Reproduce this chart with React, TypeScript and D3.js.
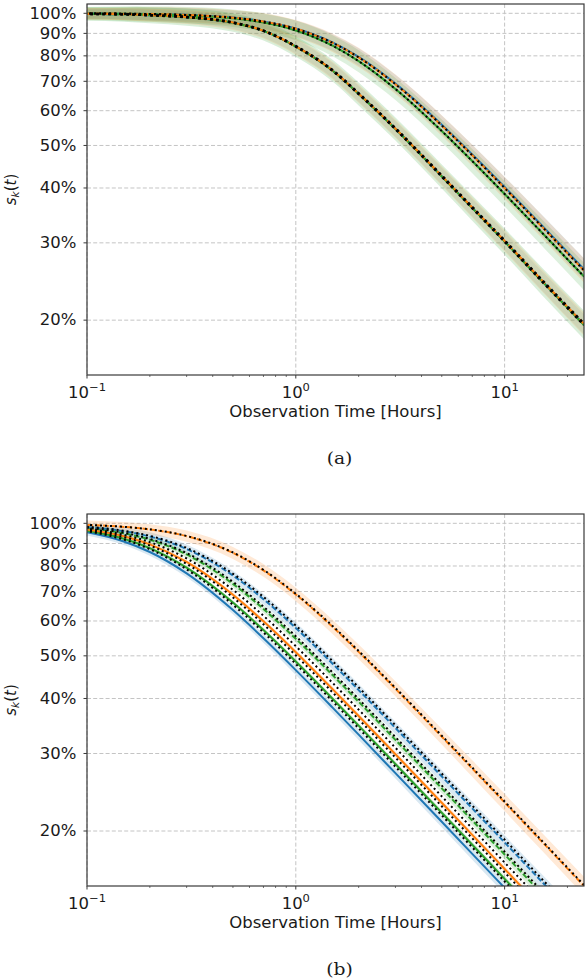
import React from "react";
import * as d3 from "d3";

// Observation times (hours) at which the survival curves are sampled
const T = [0.05, 0.1, 0.15, 0.2, 0.3, 0.5, 0.7, 1, 1.5, 2, 3, 5, 7, 10, 15, 24];

// Panel (a): two groups of nearly coincident estimates
const aTopBlue = [0.9998, 0.999, 0.998, 0.9963, 0.9918, 0.9778, 0.9586, 0.9233, 0.858, 0.7953, 0.6915, 0.5575, 0.477, 0.402, 0.3296, 0.2612];
const aTopOrange = [0.9998, 0.999, 0.998, 0.9962, 0.9916, 0.9775, 0.9581, 0.9225, 0.8566, 0.7934, 0.6893, 0.5552, 0.4748, 0.3999, 0.3277, 0.2595];
const aTopGreen = [0.9997, 0.9989, 0.9976, 0.9957, 0.9905, 0.9746, 0.953, 0.9141, 0.8437, 0.7779, 0.6723, 0.5393, 0.4607, 0.3877, 0.3175, 0.2514];
const aLowBlue = [0.999, 0.997, 0.995, 0.9901, 0.9801, 0.9522, 0.9122, 0.8404, 0.7406, 0.6556, 0.5456, 0.4256, 0.3606, 0.3026, 0.2466, 0.1955];
const aLowOrange = [0.999, 0.997, 0.995, 0.9902, 0.9803, 0.9525, 0.9125, 0.8408, 0.7412, 0.6562, 0.5462, 0.4262, 0.3612, 0.3032, 0.2472, 0.196];
const aLowGreen = [0.999, 0.997, 0.995, 0.99, 0.98, 0.952, 0.912, 0.84, 0.74, 0.655, 0.545, 0.425, 0.36, 0.302, 0.246, 0.195];

// Panel (b): six groups, solid and dashed
const bSolidBlue = [0.9875, 0.9543, 0.9093, 0.8606, 0.7696, 0.6352, 0.5481, 0.464, 0.3813, 0.3311, 0.2707, 0.2099, 0.1775, 0.1485, 0.1212, 0.0958];
const bSolidGreen = [0.9897, 0.9615, 0.9223, 0.8784, 0.793, 0.6607, 0.5722, 0.4855, 0.3996, 0.347, 0.2839, 0.2201, 0.1861, 0.1557, 0.1272, 0.1006];
const bSolidOrange = [0.9915, 0.9682, 0.9346, 0.8958, 0.8171, 0.6883, 0.5989, 0.5097, 0.4201, 0.3651, 0.2989, 0.2318, 0.196, 0.164, 0.1339, 0.1059];
const bDashGreen = [0.9937, 0.976, 0.9496, 0.918, 0.8497, 0.7284, 0.6389, 0.5465, 0.452, 0.3932, 0.3221, 0.25, 0.2113, 0.1769, 0.1444, 0.1142];
const bDashBlue = [0.9951, 0.9811, 0.9598, 0.9334, 0.8739, 0.7609, 0.6726, 0.5784, 0.4799, 0.418, 0.3428, 0.2661, 0.2251, 0.1884, 0.1538, 0.1216];
const bDashOrange = [0.9979, 0.9916, 0.9816, 0.9684, 0.935, 0.8566, 0.7815, 0.6893, 0.582, 0.5105, 0.4209, 0.3277, 0.2773, 0.2322, 0.1897, 0.15];

// Time acceleration of each fitted (dotted) curve relative to its estimate
const bFitScale = [1.07, 1.07, 1.07, 1.03, 1.03, 1.01];

// Relative growth of the confidence band along the time axis
const bandSpread = [0.6, 0.6, 0.65, 0.7, 0.75, 0.8, 0.85, 0.9, 0.95, 1, 1, 1.05, 1.1, 1.15, 1.2, 1.25];

const yTicks = [0.2, 0.3, 0.4, 0.5, 0.6, 0.7, 0.8, 0.9, 1.0];
const yTickLabels = ["20%", "30%", "40%", "50%", "60%", "70%", "80%", "90%", "100%"];
const xMajor = [0.1, 1, 10];
const xMajorExp = ["−1", "0", "1"];
const xMinor = [0.2, 0.3, 0.4, 0.5, 0.6, 0.7, 0.8, 0.9, 2, 3, 4, 5, 6, 7, 8, 9, 20];

const BLUE = "#1f77b4";
const ORANGE = "#ff7f0e";
const GREEN = "#2ca02c";

type Series = { vals: number[]; color: string; dashed: boolean; band: number; alpha: number };
type Fit = { vals: number[]; scale: number; width: number; dash: string };

const panelASeries: Series[] = [
  { vals: aTopBlue, color: BLUE, dashed: false, band: 0.02, alpha: 0.14 },
  { vals: aTopGreen, color: GREEN, dashed: false, band: 0.025, alpha: 0.16 },
  { vals: aTopOrange, color: ORANGE, dashed: true, band: 0.022, alpha: 0.16 },
  { vals: aLowBlue, color: BLUE, dashed: false, band: 0.018, alpha: 0.1 },
  { vals: aLowGreen, color: GREEN, dashed: false, band: 0.026, alpha: 0.18 },
  { vals: aLowOrange, color: ORANGE, dashed: true, band: 0.021, alpha: 0.14 },
];
const panelAFits: Fit[] = [
  { vals: aTopOrange, scale: 1, width: 2, dash: "2 3" },
  { vals: aTopGreen, scale: 1, width: 2, dash: "2 3" },
  { vals: aLowGreen, scale: 1, width: 2.6, dash: "2.6 3.4" },
  { vals: aLowOrange, scale: 1.004, width: 2.6, dash: "2.6 3.4" },
];

const bVals = [bSolidBlue, bSolidGreen, bSolidOrange, bDashGreen, bDashBlue, bDashOrange];
const bColors = [BLUE, GREEN, ORANGE, GREEN, BLUE, ORANGE];
const bDashed = [false, false, false, true, true, true];
const bBands = [0.012, 0.006, 0.006, 0.01, 0.014, 0.017];

const panelBSeries: Series[] = bVals.map((vals, i) => ({ vals, color: bColors[i], dashed: bDashed[i], band: bBands[i], alpha: 0.17 }));
const panelBFits: Fit[] = bVals.map((vals, i) => ({ vals, scale: bFitScale[i], width: 2, dash: "2 3" }));

const X0 = 87;
const X1 = 584;
const SX = 1.1; // horizontal text stretch
const FONT = "DejaVu Sans";
const INK = "#1a1a1a";

function Txt(props: { x: number; y: number; anchor?: string; size?: number; family?: string; children: React.ReactNode }) {
  const { x, y, anchor = "middle", size = 15, family = FONT, children } = props;
  return (
    <text transform={`translate(${x},${y}) scale(${SX},1)`} textAnchor={anchor} fontSize={size} fontFamily={family} fill={INK}>
      {children}
    </text>
  );
}

function Panel(props: { id: string; top: number; bottom: number; series: Series[]; fits: Fit[]; caption: string }) {
  const { id, top, bottom, series, fits, caption } = props;
  const x = d3.scaleLog().domain([0.1, 24]).range([X0, X1]);
  const y = d3.scaleLog().domain([0.15, 1.05]).range([bottom, top]);

  const lineGen = (scale: number) =>
    d3
      .line<number>()
      .x((_, i) => x(T[i] * scale))
      .y((v) => y(v))
      .curve(d3.curveMonotoneX);

  const areaGen = (band: number) =>
    d3
      .area<number>()
      .x((_, i) => x(T[i]))
      .y0((v, i) => y(v * Math.pow(10, -band * bandSpread[i])))
      .y1((v, i) => y(v * Math.pow(10, band * bandSpread[i])))
      .curve(d3.curveMonotoneX);

  const mid = (top + bottom) / 2;

  return (
    <g>
      <defs>
        <clipPath id={id}>
          <rect x={X0} y={top} width={X1 - X0} height={bottom - top} />
        </clipPath>
      </defs>

      {/* grid */}
      {yTicks.map((t) => (
        <line key={"gy" + t} x1={X0} x2={X1} y1={y(t)} y2={y(t)} stroke="#c4c4c4" strokeWidth={1} strokeDasharray="4 2.2" />
      ))}
      {xMajor.map((t) => (
        <line key={"gx" + t} x1={x(t)} x2={x(t)} y1={top} y2={bottom} stroke="#c4c4c4" strokeWidth={1} strokeDasharray="4 2.2" />
      ))}

      <g clipPath={`url(#${id})`}>
        {series.map((s, i) => (
          <path key={"b" + i} d={areaGen(s.band)(s.vals) || ""} fill={s.color} fillOpacity={s.alpha} stroke="none" />
        ))}
        {series.map((s, i) => (
          <path
            key={"l" + i}
            d={lineGen(1)(s.vals) || ""}
            fill="none"
            stroke={s.color}
            strokeWidth={2}
            strokeDasharray={s.dashed ? "5.5 2.4" : undefined}
          />
        ))}
        {fits.map((f, i) => (
          <path
            key={"f" + i}
            d={lineGen(f.scale)(f.vals) || ""}
            fill="none"
            stroke="#000"
            strokeWidth={f.width}
            strokeDasharray={f.dash}
          />
        ))}
      </g>

      {/* spines */}
      <rect x={X0} y={top} width={X1 - X0} height={bottom - top} fill="none" stroke="#3a3a3a" strokeWidth={1.2} />

      {/* y ticks */}
      {yTicks.map((t, i) => (
        <g key={"ty" + t}>
          <line x1={X0 - 3.5} x2={X0} y1={y(t)} y2={y(t)} stroke="#3a3a3a" strokeWidth={1} />
          <Txt x={76.5} y={y(t) + 5.3} anchor="end">
            {yTickLabels[i]}
          </Txt>
        </g>
      ))}

      {/* x ticks */}
      {xMinor.map((t) => (
        <line key={"mx" + t} x1={x(t)} x2={x(t)} y1={bottom} y2={bottom + 2} stroke="#3a3a3a" strokeWidth={0.7} />
      ))}
      {xMajor.map((t, i) => (
        <g key={"tx" + t}>
          <line x1={x(t)} x2={x(t)} y1={bottom} y2={bottom + 3.5} stroke="#3a3a3a" strokeWidth={1} />
          <Txt x={x(t)} y={bottom + 22.6}>
            10
            <tspan dy={-6.5} fontSize={10.5}>
              {xMajorExp[i]}
            </tspan>
          </Txt>
        </g>
      ))}

      <Txt x={(X0 + X1) / 2} y={bottom + 42}>
        Observation Time [Hours]
      </Txt>

      <text transform={`translate(16,${mid}) rotate(-90)`} textAnchor="middle" fontSize={15} fontFamily={FONT} fill={INK}>
        <tspan fontStyle="italic">s</tspan>
        <tspan fontStyle="italic" fontSize={10.5} dy={3}>
          k
        </tspan>
        <tspan dy={-3}>(</tspan>
        <tspan fontStyle="italic">t</tspan>
        <tspan>)</tspan>
      </text>

      <Txt x={(X0 + X1) / 2 + 4} y={bottom + 89} family="DejaVu Serif" size={17}>
        {caption}
      </Txt>
    </g>
  );
}

export default function App() {
  return (
    <svg width={585} height={980} style={{ position: "absolute", left: 0, top: 0, background: "#fff" }}>
      <rect width={585} height={980} fill="#fff" />
      <Panel id="clipA" top={4} bottom={375} series={panelASeries} fits={panelAFits} caption="(a)" />
      <Panel id="clipB" top={514} bottom={886} series={panelBSeries} fits={panelBFits} caption="(b)" />
    </svg>
  );
}
